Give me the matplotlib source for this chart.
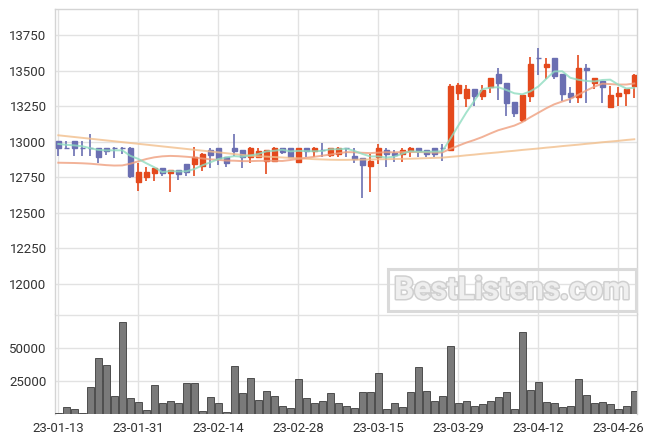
import numpy as np
import pandas as pd
import matplotlib
matplotlib.use("Agg")
import matplotlib.pyplot as plt
import matplotlib.patheffects as pe

plt.rcParams['font.family'] = ['Roboto', 'DejaVu Sans']

# ---------------- data ----------------
holidays = ["2023-01-23", "2023-01-24", "2023-03-01"]
dates = [d for d in pd.bdate_range("2023-01-13", "2023-04-28") if d.strftime("%Y-%m-%d") not in holidays]

opens = [13007, 12954, 13007, 12954, 12954, 12954, 12954, 12955, 12955, 12958,
         12718, 12750, 12782, 12813, 12782, 12801, 12841, 12843, 12831, 12942,
         12953, 12894, 12953, 12942, 12894, 12894, 12864, 12864, 12953, 12953,
         12859, 12953, 12937, 12942, 12906, 12913, 12953, 12899, 12883, 12831,
         12894, 12942, 12923, 12911, 12934, 12953, 12942, 12953, 12953, 12942,
         13345, 13306, 13371, 13322, 13383, 13477, 13411, 13277, 13153, 13324,
         13587, 13528, 13587, 13477, 13341, 13317, 13519, 13411, 13427, 13246,
         13324, 13345, 13392]
closes = [12954, 12954, 12954, 12954, 12954, 12895, 12937, 12955, 12955, 12761,
          12785, 12785, 12815, 12782, 12801, 12770, 12789, 12894, 12913, 12906,
          12887, 12848, 12937, 12894, 12953, 12934, 12942, 12958, 12930, 12894,
          12953, 12934, 12953, 12942, 12953, 12953, 12953, 12876, 12836, 12864,
          12953, 12913, 12906, 12942, 12953, 12934, 12911, 12911, 12953, 13392,
          13399, 13371, 13322, 13364, 13446, 13415, 13275, 13204, 13329, 13547,
          13587, 13547, 13463, 13336, 13317, 13517, 13505, 13446, 13387, 13329,
          13341, 13371, 13470]
highs = [13007, 13007, 13007, 13007, 13054, 12954, 12954, 12960, 12960, 12965,
         12848, 12820, 12815, 12813, 12801, 12801, 12841, 12965, 12918, 12953,
         12953, 12894, 13052, 12942, 12961, 12953, 12942, 12965, 12953, 12953,
         12958, 12953, 12965, 12989, 12953, 12965, 12953, 12953, 12883, 12913,
         12982, 12953, 12942, 12953, 12965, 12953, 12942, 12953, 12982, 13406,
         13415, 13399, 13371, 13399, 13451, 13517, 13411, 13277, 13329, 13594,
         13658, 13587, 13587, 13477, 13387, 13611, 13547, 13446, 13427, 13392,
         13383, 13371, 13477]
lows = [12899, 12954, 12899, 12899, 12899, 12848, 12906, 12883, 12911, 12742,
        12655, 12723, 12723, 12761, 12644, 12730, 12761, 12761, 12796, 12813,
        12836, 12824, 12899, 12817, 12848, 12883, 12770, 12864, 12911, 12894,
        12859, 12894, 12894, 12894, 12894, 12894, 12894, 12848, 12601, 12648,
        12841, 12820, 12859, 12859, 12894, 12894, 12894, 12894, 12866, 12942,
        13294, 13246, 13251, 13294, 13341, 13294, 13181, 13172, 13141, 13282,
        13470, 13439, 13439, 13289, 13270, 13270, 13270, 13369, 13275, 13246,
        13251, 13251, 13306]
volumes = [760, 5050, 3790, 760, 20200, 42170, 37120, 13380, 69440, 12120,
           8840, 3030, 21970, 8080, 9600, 8080, 23230, 23230, 2020, 12625,
           8080, 1260, 36100, 15650, 27020, 10600, 17170, 13380, 5800, 4545,
           26260, 12120, 8080, 9600, 15650, 8080, 5800, 4290, 16400, 16400,
           30800, 3790, 8080, 5050, 16400, 35350, 17420, 9600, 13380, 51260,
           8080, 9600, 5800, 7320, 9600, 12625, 16400, 3790, 61860, 18180,
           23990, 8840, 8080, 5050, 5800, 26260, 14140, 8080, 8840, 7320,
           3535, 5800, 17420]

ma5_head = [12984, 12978, 12974, 12968]
ma20_head = [12852, 12851, 12850, 12848, 12845, 12840, 12835, 12832, 12833, 12845,
             12862, 12878, 12890, 12897, 12900, 12898, 12894, 12889, 12882]
ma60 = [13045, 13039, 13033, 13027, 13021, 13015, 13009, 13003, 12997, 12991,
        12985, 12979, 12973, 12967, 12961, 12955, 12949, 12943, 12937, 12931,
        12925, 12919, 12913, 12907, 12901, 12898, 12895, 12892, 12889, 12886,
        12883, 12880, 12877, 12875, 12873, 12872, 12872, 12873, 12874, 12875,
        12876, 12877, 12878, 12879, 12880, 12882, 12884, 12886, 12888, 12893,
        12898, 12904, 12909, 12915, 12920, 12925, 12931, 12936, 12942, 12947,
        12952, 12958, 12963, 12969, 12974, 12979, 12985, 12990, 12996, 13001,
        13006, 13012, 13017]

price_ticks = [12000, 12250, 12500, 12750, 13000, 13250, 13500, 13750]
volume_ticks = [25000, 50000]

# ---------------- derived ----------------
n = len(closes)
x = np.arange(n)
cs = pd.Series(closes, dtype=float)
ma5 = cs.rolling(5).mean().to_numpy()
ma5[:4] = ma5_head
ma20 = cs.rolling(20).mean().to_numpy()
ma20[:19] = ma20_head

UP = '#e4491c'
DOWN = '#6b6fb2'
GRID = '#e2e2e2'
colors = [UP if c > o else DOWN for o, c in zip(opens, closes)]

W, H = 656, 444
fig = plt.figure(figsize=(W / 100, H / 100), dpi=100)


def rect(l, t, r, b):
    return [l / W, 1 - b / H, (r - l) / W, (b - t) / H]


axp = fig.add_axes(rect(55, 9.3, 637, 314))
axv = fig.add_axes(rect(55, 314, 637, 414), sharex=axp)

# price panel
body_bottom = [min(o, c) for o, c in zip(opens, closes)]
body_h = [abs(c - o) for o, c in zip(opens, closes)]
axp.vlines(x, lows, highs, colors=colors, linewidth=1.2, zorder=3)
axp.bar(x, body_h, bottom=body_bottom, width=0.62, color=colors,
        edgecolor=colors, linewidth=1.0, zorder=4)
axp.plot(x, ma60, color='#f2bf8c', lw=1.4, alpha=0.8, zorder=5)
axp.plot(x, ma20, color='#ef9f7e', lw=1.4, alpha=0.8, zorder=5)
axp.plot(x, ma5, color='#8fdcc0', lw=1.4, alpha=0.8, zorder=5)

axp.set_ylim(11787, 13932)
axp.set_yticks(price_ticks)
axp.set_xlim(-0.4125, 72.34)

# volume panel
axv.bar(x, volumes, width=0.86, color='#7a7a7a', edgecolor='#3c3c3c', linewidth=0.6, zorder=3)
axv.set_ylim(0, 75750)
axv.set_yticks(volume_ticks)

tick_pos = list(range(0, n, 10))
tick_lab = [dates[i].strftime('%y-%m-%d') for i in tick_pos]
axv.set_xticks(tick_pos)
axv.set_xticklabels(tick_lab)

for ax in (axp, axv):
    ax.set_facecolor('white')
    ax.grid(True, color=GRID, linewidth=1.0, zorder=0)
    ax.set_axisbelow(True)
    ax.tick_params(length=0, labelsize=9.5, labelcolor='#333333', pad=6)
    for s in ax.spines.values():
        s.set_color('#d4d4d4')
        s.set_linewidth(1.0)
axp.spines['bottom'].set_visible(False)
axv.spines['top'].set_visible(False)
axv.spines['bottom'].set_visible(False)
axv.axhline(75000, color=GRID, lw=1.0, zorder=0)
plt.setp(axp.get_xticklabels(), visible=False)
axv.tick_params(axis='x', pad=6)

# watermark
fig.text(512 / W, 1 - 290 / H, 'BestListens.com', ha='center', va='center',
         fontsize=22.5, fontweight='bold', color='#efefef',
         path_effects=[pe.withStroke(linewidth=2.2, foreground='#d0d0d0')],
         bbox=dict(boxstyle='square,pad=0.18', facecolor='none', edgecolor='#dadada', linewidth=2.2),
         zorder=10)

fig.savefig('out.png', dpi=100)
